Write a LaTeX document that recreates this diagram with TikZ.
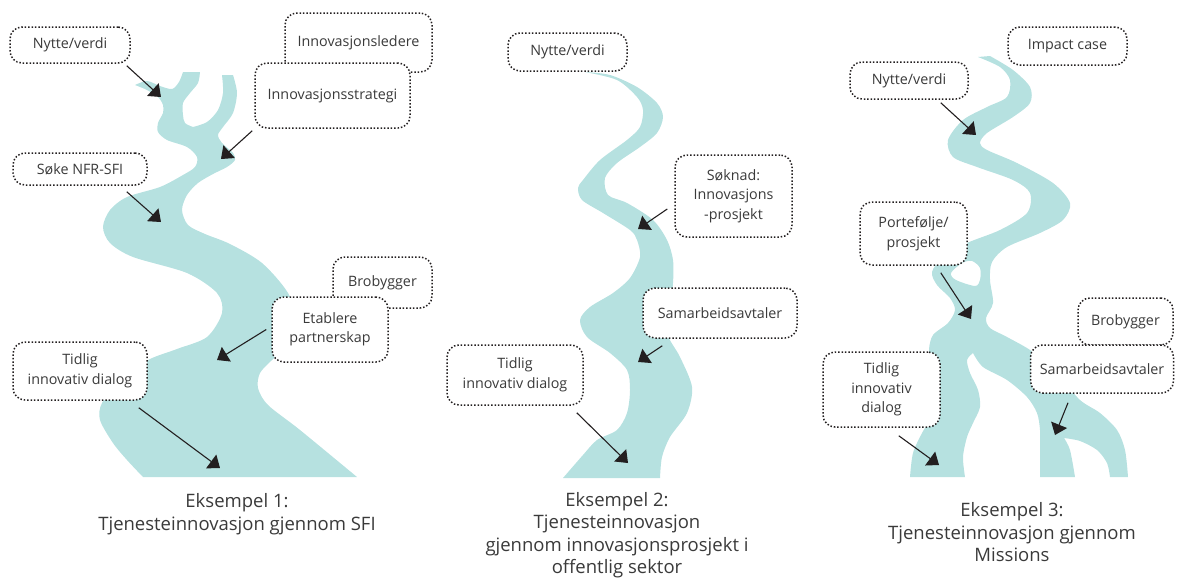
\documentclass[tikz,border=0pt]{standalone}
\usepackage{fontspec}
\setmainfont{Open Sans}
\usepackage{tikz}
\usetikzlibrary{arrows.meta}
\definecolor{riverteal}{RGB}{182,225,224}
\definecolor{inkgrey}{RGB}{58,58,58}
\definecolor{arrowblack}{RGB}{35,31,32}
\tikzstyle{river}=[fill=riverteal]
\tikzstyle{tag}=[draw=arrowblack,line width=1.5pt,dash pattern=on 1.5pt off 1.9pt,rounded corners=12pt,
                 fill=white,align=center,inner sep=0pt,text=inkgrey,font=\fontsize{14.3}{19.5}\selectfont]
\tikzstyle{pointer}=[-{Triangle[length=11pt,width=17pt]},line width=1.1pt,draw=arrowblack]
\tikzstyle{capt}=[align=center,text=inkgrey,font=\fontsize{18.5}{22.5}\selectfont]

\begin{document}
\begin{tikzpicture}[x=1pt,y=-1pt]
  \useasboundingbox (0,0) rectangle (1177,579);

  % river 1
  \fill[river] (135,85) -- plot[smooth] coordinates {(135,85) (147,81) (160,86) (172,89) (179,82) (183,72)}
    -- (200,72) -- plot[smooth] coordinates {(200,72) (198,83) (190,93) (183,103) (183,115) (185,123) (193,127)}
    -- plot[smooth] coordinates {(193,127) (207,122) (218,110) (223,93) (222,75)}
    -- (233,75) -- plot[smooth] coordinates {(233,75) (237,93) (233,113) (223,127) (218,135) (222,143) (233,153)
       (235,160) (227,167) (213,174) (198,183) (187,195) (182,210) (188,225) (205,234) (230,244) (262,263)
       (288,293) (295,320) (287,345) (272,360) (260,373) (258,388) (268,405) (300,430) (357,477)}
    -- (143,477) -- plot[smooth] coordinates {(143,477) (127,460) (113,443) (100,420) (102,403) (120,380)
       (148,360) (177,349) (207,337) (222,313) (217,293) (187,273) (133,257) (110,243) (103,227) (110,210)
       (127,197) (160,187) (183,175) (195,167) (197,157) (187,147) (167,140) (158,132) (158,123) (163,113)
       (163,105) (158,97) (147,90) (135,85)} -- cycle;

  % river 2
  \fill[river] plot[smooth] coordinates {(585,72) (610,75) (637,87) (657,103) (663,117) (657,133) (640,147)
       (617,163) (605,178) (608,195) (627,203) (653,220) (667,240) (673,260) (673,283) (670,307) (667,333)
       (680,357) (692,387) (687,413) (670,437) (662,457) (660,478)}
    -- (563,478) -- plot[smooth] coordinates {(563,478) (583,455) (597,440) (617,430) (627,413) (630,390)
       (627,370) (610,353) (587,337) (580,320) (590,307) (613,293) (630,278) (640,257) (637,240) (630,230)
       (603,213) (582,200) (578,188) (583,180) (600,160) (627,140) (640,127) (643,110) (637,97) (617,80)
       (585,72)} -- cycle;

  % river 3
  \fill[river,even odd rule] (978,57) -- (990,56) -- plot[smooth] coordinates {(990,56) (1013,70) (1030,87)
       (1030,103) (1013,117) (987,133) (980,143) (987,150) (1017,163) (1053,183) (1070,203) (1063,220)
       (1040,233) (1007,247) (992,262) (990,280) (993,303) (986,318) (990,328) (1007,337) (1033,352)
       (1058,375) (1080,400) (1100,413) (1117,430) (1125,450) (1128,477)}
    -- (1110,477) -- plot[smooth] coordinates {(1110,477) (1107,463) (1097,450) (1080,441) (1064,438)}
    -- plot[smooth] coordinates {(1064,438) (1070,450) (1075,477)}
    -- (1040,477) -- plot[smooth] coordinates {(1040,477) (1040,450) (1040,430) (1037,413) (1027,397)
       (1007,380) (983,367) (973,353)}
    -- plot[smooth] coordinates {(973,353) (967,360) (970,373) (978,390) (980,407) (973,423) (967,437)
       (963,457) (965,477)}
    -- (910,477) -- plot[smooth] coordinates {(910,477) (913,453) (922,433) (932,415) (935,390) (932,365)
       (929,350) (933,335) (948,323) (955,310) (950,298) (937,285) (932,272) (943,257) (967,243) (1000,230)
       (1027,213) (1030,193) (1013,180) (977,167) (953,157) (948,140) (963,120) (987,107) (1007,97)
       (1010,80) (1000,67) (978,57)} -- cycle
    plot[smooth cycle] coordinates {(951,273) (962,263) (972,261) (980,268) (980,280) (975,286) (956,280)};

  % labels
  \node[tag,minimum width=120pt,minimum height=36pt] (nv1) at (70,45) {Nytte/verdi};
  \node[tag,minimum width=147pt,minimum height=59pt] (il1) at (358.5,42.5) {Innovasjonsledere};
  \node[tag,minimum width=155pt,minimum height=65pt] (is1) at (332.5,95.5) {Innovasjonsstrategi};
  \node[tag,minimum width=134pt,minimum height=32pt] (sk1) at (80,169) {Søke NFR-SFI};
  \node[tag,minimum width=99pt,minimum height=51pt] (bb1) at (382.5,282.5) {Brobygger};
  \node[tag,minimum width=116pt,minimum height=65pt] (ep1) at (330,329.5) {Etablere\\partnerskap};
  \node[tag,minimum width=134pt,minimum height=58pt] (td1) at (80,371) {Tidlig\\innovativ dialog};

  \node[tag,minimum width=119pt,minimum height=38pt] (nv2) at (567.5,52) {Nytte/verdi};
  \node[tag,minimum width=117pt,minimum height=82pt] (sn2) at (733.5,196) {Søknad:\\Innovasjons\\-prosjekt};
  \node[tag,minimum width=154pt,minimum height=50pt] (sa2) at (720,313) {Samarbeidsavtaler};
  \node[tag,minimum width=136pt,minimum height=60pt] (td2) at (515,375) {Tidlig\\innovativ dialog};

  \node[tag,minimum width=119pt,minimum height=38pt] (ic3) at (1067.5,46) {Impact case};
  \node[tag,minimum width=118pt,minimum height=37pt] (nv3) at (909,80.5) {Nytte/verdi};
  \node[tag,minimum width=107pt,minimum height=63pt] (pp3) at (913.5,233.5) {Portefølje/\\prosjekt};
  \node[tag,minimum width=95pt,minimum height=47pt] (bb3) at (1125.5,321.5) {Brobygger};
  \node[tag,minimum width=143pt,minimum height=48pt] (sa3) at (1102,369) {Samarbeidsavtaler};
  \node[tag,minimum width=117pt,minimum height=75pt] (td3) at (881.5,389.5) {Tidlig\\innovativ\\dialog};

  % arrow targets
  \coordinate (a1) at (161,97);
  \coordinate (a2) at (221,159);
  \coordinate (a3) at (161,222);
  \coordinate (a4) at (217,360);
  \coordinate (a5) at (220,468);
  \coordinate (b1) at (638,229);
  \coordinate (b2) at (638,362);
  \coordinate (b3) at (628,463);
  \coordinate (c1) at (976,135);
  \coordinate (c2) at (971,319);
  \coordinate (c3) at (1055,435);
  \coordinate (c4) at (939,465);

  \draw[pointer] ([xshift=-4pt,yshift=-2pt]nv1.south east) -- (a1);
  \draw[pointer] ([xshift=-2pt,yshift=-2pt]is1.south west) -- (a2);
  \draw[pointer] ([xshift=-21pt,yshift=-6pt]sk1.south east) -- (a3);
  \draw[pointer] ([xshift=-5pt]ep1.west) -- (a4);
  \draw[pointer] ([xshift=-9pt,yshift=-7pt]td1.south east) -- (a5);
  \draw[pointer] ([xshift=-7pt,yshift=-13pt]sn2.west) -- (b1);
  \draw[pointer] ([xshift=20pt,yshift=-7pt]sa2.south west) -- (b2);
  \draw[pointer] ([xshift=-7pt,yshift=-7pt]td2.south east) -- (b3);
  \draw[pointer] ([xshift=-28pt,yshift=-3pt]nv3.south east) -- (c1);
  \draw[pointer] ([xshift=-27pt,yshift=-7pt]pp3.south east) -- (c2);
  \draw[pointer] ([xshift=-34pt,yshift=-9pt]sa3.south) -- (c3);
  \draw[pointer] ([xshift=-42pt,yshift=-8pt]td3.south east) -- (c4);

  % captions
  \node[capt] (e1) at (237,514) {Eksempel 1:\\Tjenesteinnovasjon gjennom SFI};
  \node[capt] (e2) at (617,535) {Eksempel 2:\\Tjenesteinnovasjon\\gjennom innovasjonsprosjekt i\\offentlig sektor};
  \node[capt] (e3) at (1012,532.5) {Eksempel 3:\\Tjenesteinnovasjon gjennom\\Missions};
\end{tikzpicture}
\end{document}
